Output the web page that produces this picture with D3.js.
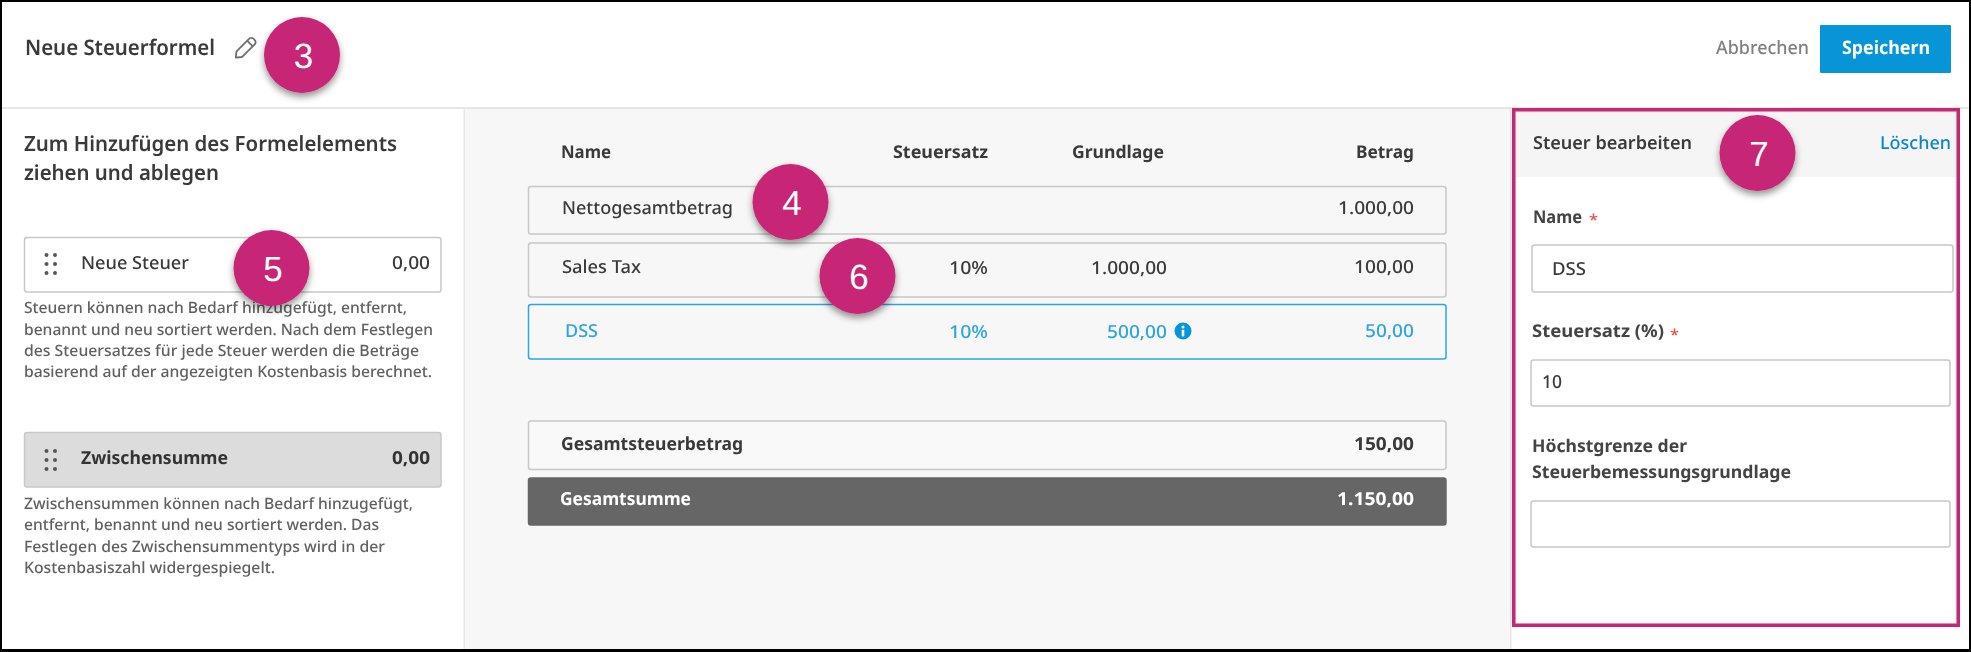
<!DOCTYPE html>
<html lang="de">
<head>
<meta charset="utf-8">
<title>Neue Steuerformel</title>
<script src="https://cdn.jsdelivr.net/npm/d3@7/dist/d3.min.js"></script>
<style>
html,body{margin:0;padding:0;background:#fff;overflow:hidden}
svg{display:block}
text{font-family:"Noto Sans","Open Sans",sans-serif;text-rendering:geometricPrecision}
.soft{filter:blur(.35px)}
</style>
</head>
<body>
<svg id="chart" width="1971" height="652"></svg>
<script>
// ---------- data ----------
const formulaTitle = "Neue Steuerformel";
const cancelLabel = "Abbrechen";
const saveLabel = "Speichern";
const leftHeading = ["Zum Hinzufügen des Formelelements", "ziehen und ablegen"];
const taxItemLabel = "Neue Steuer";
const taxItemValue = 0;
const taxHelp = [
  "Steuern können nach Bedarf hinzugefügt, entfernt,",
  "benannt und neu sortiert werden. Nach dem Festlegen",
  "des Steuersatzes für jede Steuer werden die Beträge",
  "basierend auf der angezeigten Kostenbasis berechnet."
];
const subtotalLabel = "Zwischensumme";
const subtotalValue = 0;
const subtotalHelp = [
  "Zwischensummen können nach Bedarf hinzugefügt,",
  "entfernt, benannt und neu sortiert werden. Das",
  "Festlegen des Zwischensummentyps wird in der",
  "Kostenbasiszahl widergespiegelt."
];
const columnLabels = ["Name", "Steuersatz", "Grundlage", "Betrag"];
const rowNames = ["Nettogesamtbetrag", "Sales Tax", "DSS", "Gesamtsteuerbetrag", "Gesamtsumme"];
const rowRates = [null, 10, 10, null, null];
const rowBases = [null, 1000, 500, null, null];
const rowAmounts = [1000, 100, 50, 150, 1150];
const editTitle = "Steuer bearbeiten";
const deleteLabel = "Löschen";
const fieldLabels = ["Name", "Steuersatz (%)", "Höchstgrenze der", "Steuerbemessungsgrundlage"];
const fieldValues = ["DSS", "10", ""];
const calloutNumbers = ["3", "4", "5", "6", "7"];

// ---------- layout & helpers ----------
const W = 1971, H = 652;
const svg = d3.select("#chart");
const de = d3.formatLocale({decimal:",", thousands:".", grouping:[3], currency:["","€"]});
const money = de.format(",.2f");

const defs = svg.append("defs");
const sh = defs.append("filter").attr("id","shadow").attr("x","-30%").attr("y","-30%").attr("width","160%").attr("height","170%");
sh.append("feDropShadow").attr("dx",0).attr("dy",4).attr("stdDeviation",3.5)
  .attr("flood-color","#000").attr("flood-opacity",.42);

const bg = svg.append("g");
const marks = svg.append("g");
const labels = svg.append("g").attr("class","soft");
const overlay = svg.append("g");

function box(g,x0,y0,x1,y1,o={}){
  return g.append("rect").attr("x",x0).attr("y",y0).attr("width",x1-x0).attr("height",y1-y0)
    .attr("rx",o.rx ?? 2.5).attr("fill",o.fill ?? "none").attr("stroke",o.stroke ?? "none")
    .attr("stroke-width",o.sw ?? 1.5);
}
// x = left edge (or right edge with anchor "end"); w = target rendered width
function label(t,x,y,size,weight,color,w,anchor){
  const el = labels.append("text").attr("x",x).attr("y",y).attr("font-size",size)
    .attr("font-weight",weight).attr("fill",color).attr("text-anchor",anchor||"start").text(t);
  if(w) el.attr("textLength",w).attr("lengthAdjust","spacingAndGlyphs");
  return el;
}
const INK="#3a3a3a", MID="#606060", BLUE="#2ea5e0", STRONG="#0696d7", LINE="#c8c8c8";

// ---------- page structure ----------
bg.append("rect").attr("width",W).attr("height",H).attr("fill","#fff");
bg.append("rect").attr("x",465).attr("y",108).attr("width",1045).attr("height",H-108).attr("fill","#f7f7f7");
bg.append("rect").attr("x",0).attr("y",107).attr("width",W).attr("height",2).attr("fill","#e6e6e6");
bg.append("rect").attr("x",463.5).attr("y",108).attr("width",1.5).attr("height",H-108).attr("fill","#e6e6e6");
bg.append("rect").attr("x",1510).attr("y",108).attr("width",1.5).attr("height",H-108).attr("fill","#e6e6e6");

// ---------- header ----------
label(formulaTitle,25,55,21.5,600,INK,190);
const pencil = marks.append("g").attr("transform","translate(245,48.5) rotate(-45)")
  .attr("fill","none").attr("stroke","#6e6e6e").attr("stroke-width",1.8).attr("stroke-linejoin","round");
pencil.append("path").attr("d","M-13,0 L-8,-4 L9,-4 Q13,-4 13,0 Q13,4 9,4 L-8,4 Z");
pencil.append("path").attr("d","M7,-4 L7,4");
label(cancelLabel,1716,54,18.5,500,"#808080",93);
box(marks,1820,25,1951,73,{fill:STRONG,rx:1});
label(saveLabel,1842,54,18.5,700,"#fff",88);

// ---------- left panel ----------
label(leftHeading[0],24,151,21,600,INK,373);
label(leftHeading[1],24,180,21,600,INK,195);

function dragDots(cy){
  const dx = d3.scalePoint().domain([0,1]).range([46.5,55]);
  const dy = d3.scalePoint().domain([0,1,2]).range([cy-9,cy+9]);
  marks.append("g").selectAll("circle").data(d3.cross(dx.domain(),dy.domain())).join("circle")
    .attr("cx",d=>dx(d[0])).attr("cy",d=>dy(d[1])).attr("r",2).attr("fill","#555");
}
box(marks,24.5,237.5,441,292,{fill:"#fff",stroke:LINE});
dragDots(264);
label(taxItemLabel,81,269,18,500,INK,108);
label(money(taxItemValue),430,269,18,500,INK,38,"end");
const helpY1 = [313,335,356,377], helpW1 = [383,409,395,408];
taxHelp.forEach((t,i)=>label(t,24,helpY1[i],15.6,500,MID,helpW1[i]));

box(marks,24.5,432.5,441,487,{fill:"#dcdcdc",stroke:LINE});
dragDots(460);
label(subtotalLabel,81,464,18,700,"#333",147);
label(money(subtotalValue),430,464,18,700,"#333",38,"end");
const helpY2 = [509,530,552,573], helpW2 = [389,355,361,251];
subtotalHelp.forEach((t,i)=>label(t,24,helpY2[i],15.6,500,MID,helpW2[i]));

// ---------- centre table ----------
const rowTop = d3.scaleOrdinal().domain(rowNames).range([186.5,243,304.5,421,478]);
const rowBottom = d3.scaleOrdinal().domain(rowNames).range([234,297,359,469.5,525]);
const rowBase = d3.scaleOrdinal().domain(rowNames).range([213.5,273,337,450,505]);
const rowFill = d3.scaleOrdinal().domain(rowNames).range(["#f7f7f7","#f7f7f7","#f7f7f7","#f9f9f9","#666666"]);
const rowStroke = d3.scaleOrdinal().domain(rowNames).range([LINE,LINE,"#2ea5e0",LINE,"#666666"]);
const rowText = d3.scaleOrdinal().domain(rowNames).range([INK,INK,BLUE,INK,"#ffffff"]);
const rowWeight = d3.scaleOrdinal().domain(rowNames).range([500,500,500,700,700]);
const nameX = d3.scaleOrdinal().domain(rowNames).range([562,562,565,561,560]);
const nameW = d3.scaleOrdinal().domain(rowNames).range([171,79,33,182,131]);
const amtW = d3.scaleOrdinal().domain(rowNames).range([76,60,49,60,77]);
const columnX = d3.scaleOrdinal().domain(columnLabels).range([561,893,1072,1414]);
const columnW = d3.scaleOrdinal().domain(columnLabels).range([50,95,92,58]);
const RATE_R=988, BASE_R=1167, AMT_R=1414;

columnLabels.forEach((c,i)=>{
  label(c,columnX(c),158,17.5,700,INK,columnW(c),i===3?"end":"start");
});

marks.append("g").selectAll("rect").data(rowNames).join("rect")
  .attr("x",528.5).attr("width",1446-528.5)
  .attr("y",d=>rowTop(d)).attr("height",d=>rowBottom(d)-rowTop(d)).attr("rx",2.5)
  .attr("fill",d=>rowFill(d)).attr("stroke",d=>rowStroke(d)).attr("stroke-width",1.5);

rowNames.forEach((n,i)=>{
  const col=rowText(n), wt=rowWeight(n), y=rowBase(n);
  label(n,nameX(n),y,18,wt,col,nameW(n));
  label(money(rowAmounts[i]),AMT_R,y,18,wt,col,amtW(n),"end");
  if(rowRates[i]!=null) label(rowRates[i]+"%",RATE_R,y+1,18,500,col,39,"end");
  if(rowBases[i]!=null) label(money(rowBases[i]),BASE_R,y+1,18,500,col,rowBases[i]>=1000?76:60,"end");
});
// info icon beside the capped base
const info = marks.append("g").attr("transform","translate(1183,331)");
info.append("circle").attr("r",8.5).attr("fill",STRONG);
info.append("circle").attr("cy",-4).attr("r",1.5).attr("fill","#fff");
info.append("rect").attr("x",-1.3).attr("y",-1.2).attr("width",2.6).attr("height",6.6).attr("fill","#fff");

// ---------- right panel ----------
box(marks,1514,110,1958,177,{fill:"#f5f5f5",rx:0});
label(editTitle,1533,149,18,600,INK,159);
label(deleteLabel,1880,149,18,500,"#0a86c9",71);

label(fieldLabels[0],1533,223,17.5,700,"#444",49);
label("*",1589,225,15,500,"#ec4a41",9);
box(marks,1532,245,1953,292,{fill:"#fff",stroke:LINE});
label(fieldValues[0],1552,275,18,500,INK,34);

label(fieldLabels[1],1532,337,17.5,700,"#444",132);
label("*",1670,340,15,500,"#ec4a41",9);
box(marks,1531,360,1950,406,{fill:"#fff",stroke:LINE});
label(fieldValues[1],1542,388,18,500,INK,20);

label(fieldLabels[2],1532,452,17.5,700,"#444",155);
label(fieldLabels[3],1532,478,17.5,700,"#444",259);
box(marks,1531,501,1950,547,{fill:"#fff",stroke:LINE});

// pink frame with faint inner shade
box(overlay,1515.5,111.5,1956.5,623.5,{stroke:"#d9d9d9",sw:1.5,rx:0});
box(overlay,1513.7,109.7,1958.3,625.3,{stroke:"#c62774",sw:3.4,rx:0});

// ---------- numbered callouts ----------
const calloutX = d3.scaleOrdinal().domain(calloutNumbers).range([302,790.5,271.5,857.5,1757.5]);
const calloutY = d3.scaleOrdinal().domain(calloutNumbers).range([55,202,268,276,153]);
const callouts = overlay.append("g").selectAll("g").data(calloutNumbers).join("g")
  .attr("transform",d=>`translate(${calloutX(d)},${calloutY(d)})`);
callouts.append("circle").attr("r",38).attr("fill","#c62774").attr("filter","url(#shadow)");
callouts.append("text").attr("text-anchor","middle").attr("x",1.5).attr("y",13).attr("font-size",35)
  .style("font-family","'Liberation Sans',Arial,sans-serif").attr("fill","#fff").text(d=>d);

// ---------- outer black border ----------
overlay.append("rect").attr("x",0).attr("y",0).attr("width",W).attr("height",2).attr("fill","#000");
overlay.append("rect").attr("x",0).attr("y",649).attr("width",W).attr("height",3).attr("fill","#000");
overlay.append("rect").attr("x",0).attr("y",0).attr("width",2).attr("height",H).attr("fill","#000");
overlay.append("rect").attr("x",1969).attr("y",0).attr("width",2).attr("height",H).attr("fill","#000");
</script>
</body>
</html>
